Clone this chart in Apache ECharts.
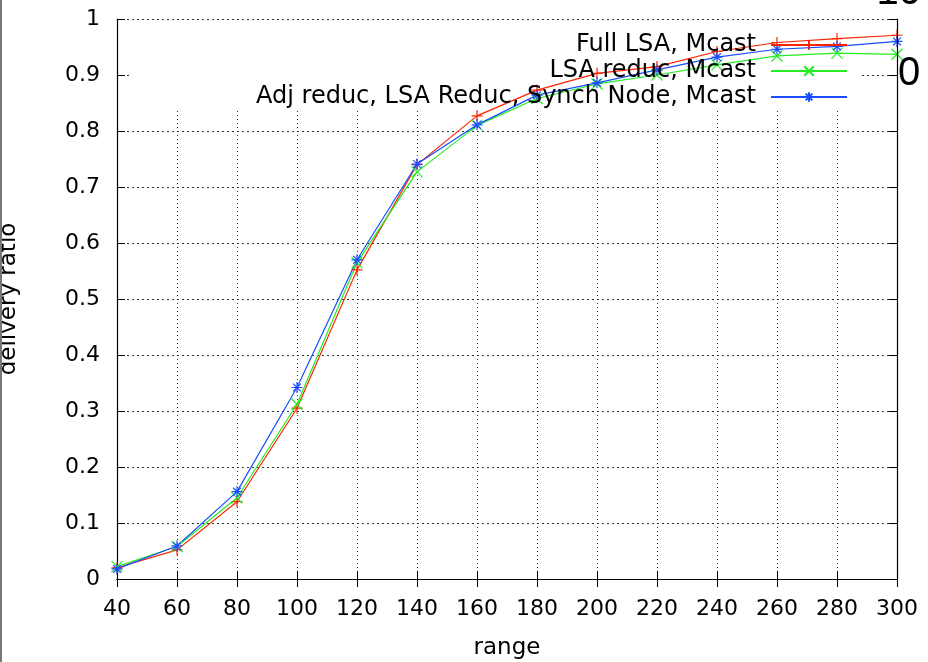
<!DOCTYPE html>
<html>
<head>
<meta charset="utf-8">
<script src="https://cdn.jsdelivr.net/npm/echarts@6/dist/echarts.min.js"></script>
<style>
  html, body { margin: 0; padding: 0; background: #fff; }
  #chart { width: 928px; height: 662px; }
</style>
</head>
<body>
<div id="chart"></div>
<script>
// range values (x axis)
var ranges = [40, 60, 80, 100, 120, 140, 160, 180, 200, 220, 240, 260, 280, 300]
// delivery ratio per series
var fullLsa = [0.020, 0.052, 0.138, 0.305, 0.552, 0.740, 0.827, 0.873, 0.903, 0.915, 0.942, 0.958, 0.965, 0.971]
var lsaReduc = [0.022, 0.058, 0.145, 0.312, 0.565, 0.727, 0.810, 0.858, 0.884, 0.900, 0.918, 0.934, 0.939, 0.937]
var adjReduc = [0.018, 0.059, 0.156, 0.342, 0.570, 0.741, 0.811, 0.864, 0.886, 0.909, 0.932, 0.946, 0.951, 0.960]
var seriesNames = ['Full LSA, Mcast', 'LSA reduc, Mcast', 'Adj reduc, LSA Reduc, Synch Node, Mcast']

var font = 'DejaVu Sans, Liberation Sans, sans-serif'
var plus = 'path://M0,5L10,5M5,0L5,10'
var cross = 'path://M1,1L9,9M1,9L9,1'
var star = 'path://M0,5L10,5M5,0L5,10M1.5,1.5L8.5,8.5M1.5,8.5L8.5,1.5'

function pairs (vals) {
  return ranges.map(function (r, i) { return [r, vals[i]] })
}

function makeSeries (name, vals, color, symbol) {
  return {
    name: name,
    type: 'line',
    xAxisIndex: 0,
    yAxisIndex: 0,
    data: pairs(vals),
    symbol: symbol,
    symbolSize: 11,
    showAllSymbol: true,
    z: 2,
    lineStyle: { color: color, width: 1.2 },
    itemStyle: { color: 'rgba(0,0,0,0)', borderColor: color, borderWidth: 1.2 }
  }
}

var chart = echarts.init(document.getElementById('chart'))
var option = {
  animation: false,
  backgroundColor: '#fff',
  grid: { left: 117, right: 31, top: 19, bottom: 83, outerBoundsMode: 'none' },
  legend: {
    orient: 'vertical',
    align: 'right',
    right: 75,
    top: 28,
    itemGap: 2,
    itemWidth: 76,
    itemHeight: 12,
    data: seriesNames,
    textStyle: { fontFamily: font, fontSize: 24, color: '#000', padding: [0, 10, 0, 0] }
  },
  xAxis: [{
    type: 'value',
    min: 40,
    max: 300,
    interval: 20,
    z: 0,
    name: 'range',
    nameLocation: 'middle',
    nameGap: 58,
    nameTextStyle: { fontFamily: font, fontSize: 23, color: '#000' },
    axisLine: { lineStyle: { color: '#000', width: 1.2 } },
    axisTick: { inside: true, length: 8, lineStyle: { color: '#000' } },
    axisLabel: { fontFamily: font, fontSize: 22, color: '#000', margin: 19 },
    splitLine: { show: true, lineStyle: { color: '#333', type: [1, 3], width: 1 } }
  }, {
    type: 'value',
    position: 'top',
    min: 40,
    max: 300,
    interval: 20,
    z: 3,
    axisLine: { lineStyle: { color: '#000', width: 1.2 } },
    axisTick: { inside: true, length: 8, lineStyle: { color: '#000' } },
    axisLabel: { show: false },
    splitLine: { show: false }
  }],
  yAxis: [{
    type: 'value',
    min: 0,
    max: 1,
    interval: 0.1,
    z: 0,
    name: 'delivery ratio',
    nameLocation: 'middle',
    nameGap: 96,
    nameTextStyle: { fontFamily: font, fontSize: 23, color: '#000' },
    axisLine: { show: true, lineStyle: { color: '#000', width: 1.2 } },
    axisTick: { show: true, inside: true, length: 8, lineStyle: { color: '#000' } },
    axisLabel: { fontFamily: font, fontSize: 22, color: '#000', margin: 17 },
    splitLine: { show: true, lineStyle: { color: '#333', type: [2, 3], width: 1 } }
  }, {
    type: 'value',
    position: 'right',
    min: 0,
    max: 1,
    interval: 0.1,
    z: 3,
    axisLine: { show: true, lineStyle: { color: '#000', width: 1.2 } },
    axisTick: { show: true, inside: true, length: 8, lineStyle: { color: '#000' } },
    axisLabel: { show: false },
    splitLine: { show: false }
  }],
  graphic: [
    // legend area clears the grid like gnuplot's key box
    { type: 'rect', z: 1, silent: true, shape: { x: 131, y: 20, width: 731, height: 89 }, style: { fill: '#fff' } },
    // left border strip of the original page
    { type: 'rect', z: 5, silent: true, shape: { x: 0, y: 0, width: 2, height: 662 }, style: { fill: '#777' } },
    // stray labels of the original figure
    { type: 'text', z: 5, silent: true, x: 921, y: 13, style: { text: '10', font: '40px Liberation Sans', fill: '#000', align: 'right', verticalAlign: 'bottom' } },
    { type: 'text', z: 5, silent: true, x: 898, y: 74, style: { text: '0', font: '40px Liberation Sans', fill: '#000', align: 'left', verticalAlign: 'middle' } }
  ],
  series: [
    makeSeries(seriesNames[0], fullLsa, '#ff2200', plus),
    makeSeries(seriesNames[1], lsaReduc, '#22ee22', cross),
    makeSeries(seriesNames[2], adjReduc, '#1a4dff', star)
  ]
}
chart.setOption(option)
</script>
</body>
</html>
